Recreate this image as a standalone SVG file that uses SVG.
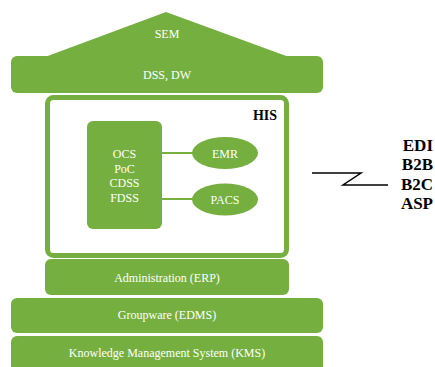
<svg xmlns="http://www.w3.org/2000/svg" width="435" height="367" viewBox="0 0 435 367">
<style>
.g{fill:#75AF40;}
.t{font-family:"Liberation Serif","Times New Roman",serif;font-size:12px;fill:#ffffff;text-anchor:middle;}
.b{font-family:"Liberation Serif","Times New Roman",serif;font-weight:bold;fill:#000000;}
.c{stroke:#75AF40;stroke-width:2;fill:none;}
</style>
<rect width="435" height="367" fill="#ffffff"/>
<g id="sem">
<polygon class="g" points="45,57 166,12 289,57"/>
<text class="t" x="167" y="38">SEM</text>
</g>
<g id="dss">
<rect class="g" x="11" y="56" width="312" height="37" rx="6"/>
<text class="t" x="167" y="79">DSS, DW</text>
</g>
<g id="his">
<rect x="47.5" y="97.5" width="239" height="158" rx="6" fill="#ffffff" stroke="#75AF40" stroke-width="5"/>
<text class="b" x="277" y="120" font-size="14" text-anchor="end">HIS</text>
</g>
<g id="connectors">
<line class="c" x1="162" y1="153" x2="193" y2="153"/>
<line class="c" x1="162" y1="199" x2="193" y2="199"/>
<polyline points="312,173 361,173 343,185 388,185" fill="none" stroke="#000000" stroke-width="1.5"/>
</g>
<g id="ocs">
<rect class="g" x="87" y="121" width="75" height="108" rx="6"/>
<text class="t" x="124.5" y="158">OCS</text>
<text class="t" x="124.5" y="172.5">PoC</text>
<text class="t" x="124.5" y="187">CDSS</text>
<text class="t" x="124.5" y="201.5">FDSS</text>
</g>
<g id="emr">
<ellipse class="g" cx="225" cy="153" rx="33" ry="16"/>
<text class="t" x="225" y="157.5">EMR</text>
</g>
<g id="pacs">
<ellipse class="g" cx="225" cy="199.5" rx="33" ry="16"/>
<text class="t" x="225" y="204">PACS</text>
</g>
<g id="admin">
<rect class="g" x="45" y="259" width="244" height="36" rx="6"/>
<text class="t" x="167" y="282">Administration (ERP)</text>
</g>
<g id="groupware">
<rect class="g" x="11" y="298" width="312" height="35" rx="6"/>
<text class="t" x="167" y="319">Groupware (EDMS)</text>
</g>
<g id="kms">
<rect class="g" x="11" y="336" width="312" height="40" rx="6"/>
<text class="t" x="167" y="357">Knowledge Management System (KMS)</text>
</g>
<g id="external">
<text class="b" font-size="17" text-anchor="end" x="433" y="151">EDI</text>
<text class="b" font-size="17" text-anchor="end" x="433" y="170">B2B</text>
<text class="b" font-size="17" text-anchor="end" x="433" y="190">B2C</text>
<text class="b" font-size="17" text-anchor="end" x="433" y="209">ASP</text>
</g>
</svg>
